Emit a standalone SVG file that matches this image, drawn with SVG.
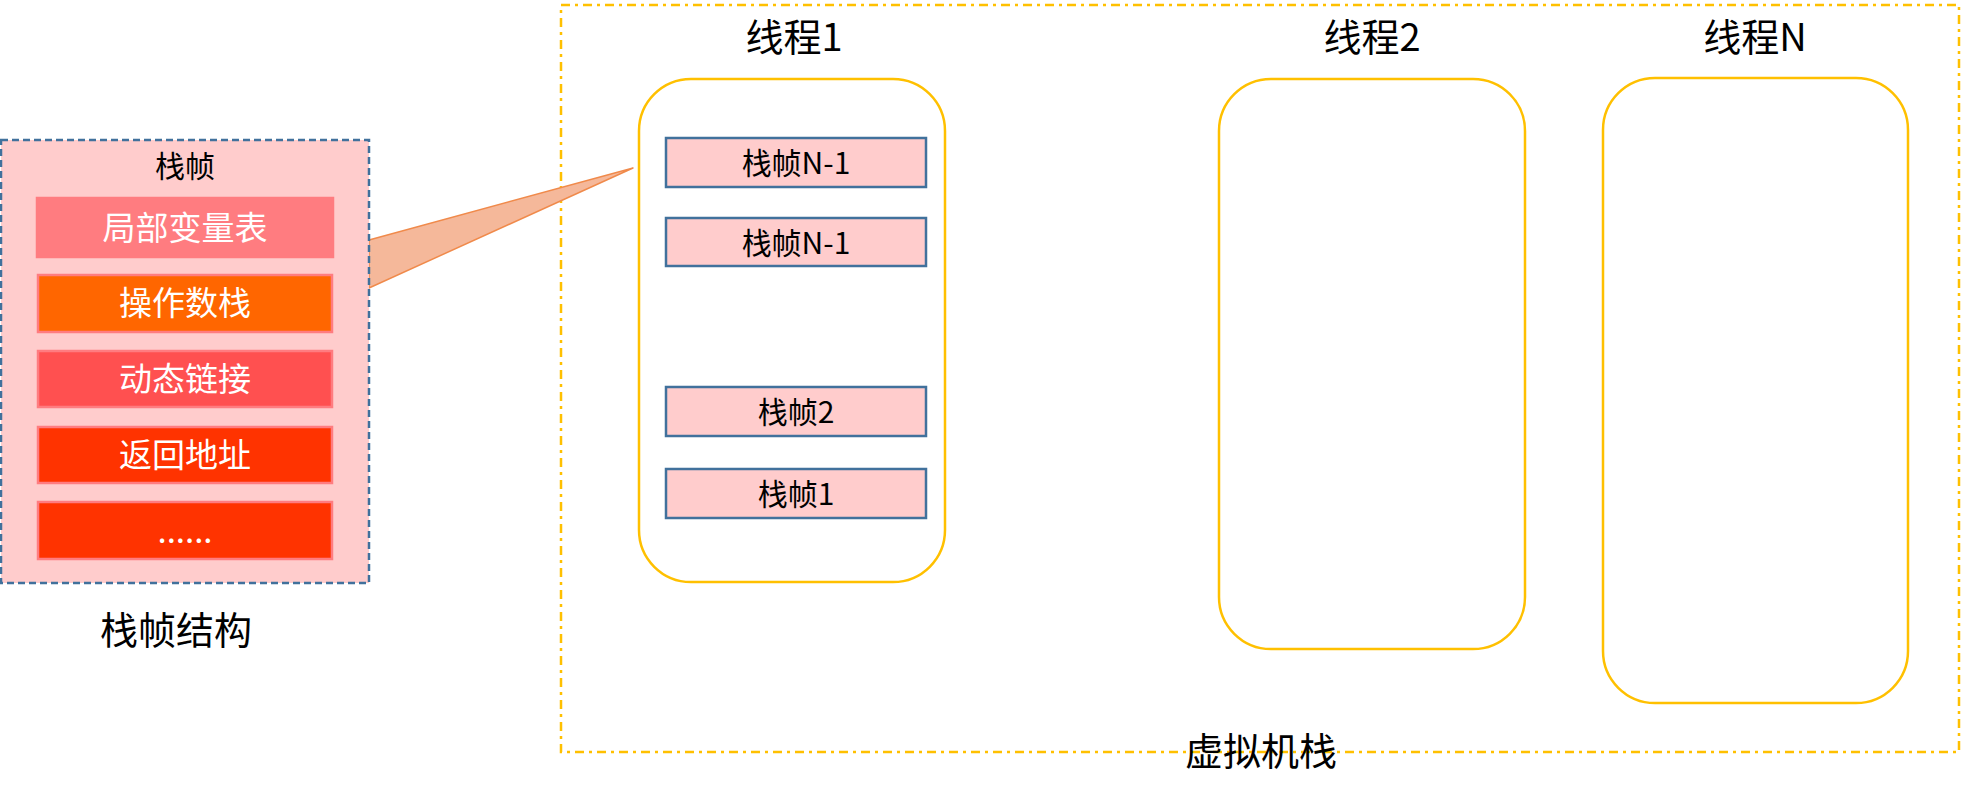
<svg xmlns="http://www.w3.org/2000/svg" width="1962" height="798" viewBox="0 0 1962 798">
<style>
text{font-family:"Microsoft YaHei","Noto Sans CJK SC","Noto Sans",sans-serif;text-anchor:middle}
.thread{fill:#FFFFFF;stroke:#FFC000;stroke-width:2.5}
.frame rect{fill:#FFCCCC;stroke:#41719C;stroke-width:2.5}
.frame text{font-size:30px;fill:#000}
.slot{stroke:#FF7C80;stroke-width:2.5}
.slot-t{font-size:33px;fill:#FFFFFF}
.title{font-size:38px;fill:#000}
</style>
<rect width="1962" height="798" fill="#FFFFFF"/>
<g id="vm-stack">
<rect x="561" y="5" width="1398" height="747" fill="none" stroke="#FFC000" stroke-width="2.5" stroke-dasharray="9 5 3 5"/>
<text x="1261" y="765" style="font-size:38px" fill="#000">虚拟机栈</text>
</g>
<g id="connectors">
<polygon points="369,240 633,168 369,288" fill="#F5B89A" stroke="#F08A4B" stroke-width="1.5" stroke-linejoin="round"/>
</g>
<g id="frame-structure">
<rect x="1" y="140" width="368" height="443" fill="#FFCCCC" stroke="#41719C" stroke-width="2.5" stroke-dasharray="7 4"/>
<text x="185" y="177" style="font-size:30px" fill="#000">栈帧</text>
<g id="slot-locals"><rect class="slot" x="37" y="198" width="296" height="59" fill="#FF7C80"/><text class="slot-t" x="185" y="240">局部变量表</text></g>
<g id="slot-operand"><rect class="slot" x="38" y="275" width="294" height="57" fill="#FF6600"/><text class="slot-t" x="185" y="315">操作数栈</text></g>
<g id="slot-dynlink"><rect class="slot" x="38" y="351" width="294" height="56" fill="#FF5050"/><text class="slot-t" x="185" y="391">动态链接</text></g>
<g id="slot-return"><rect class="slot" x="38" y="427" width="294" height="56" fill="#FF3300"/><text class="slot-t" x="185" y="467">返回地址</text></g>
<g id="slot-more"><rect class="slot" x="38" y="502" width="294" height="57" fill="#FF3300"/><text class="slot-t" x="185" y="543">......</text></g>
</g>
<g id="frame-structure-label"><text x="176" y="644" style="font-size:38px" fill="#000">栈帧结构</text></g>
<g id="thread1">
<text class="title" x="794" y="51">线程1</text>
<rect class="thread" x="639" y="79" width="306" height="503" rx="52" ry="52"/>
<g class="frame" id="t1-f1"><rect x="666" y="138" width="260" height="49"/><text x="796" y="174">栈帧N-1</text></g>
<g class="frame" id="t1-f2"><rect x="666" y="218" width="260" height="48"/><text x="796" y="254">栈帧N-1</text></g>
<g class="frame" id="t1-f3"><rect x="666" y="387" width="260" height="49"/><text x="796" y="423">栈帧2</text></g>
<g class="frame" id="t1-f4"><rect x="666" y="469" width="260" height="49"/><text x="796" y="505">栈帧1</text></g>
</g>
<g id="thread2">
<text class="title" x="1372" y="51">线程2</text>
<rect class="thread" x="1219" y="79" width="306" height="570" rx="52" ry="52"/>
</g>
<g id="threadN">
<text class="title" x="1755" y="51">线程N</text>
<rect class="thread" x="1603" y="78" width="305" height="625" rx="52" ry="52"/>
</g>
</svg>
